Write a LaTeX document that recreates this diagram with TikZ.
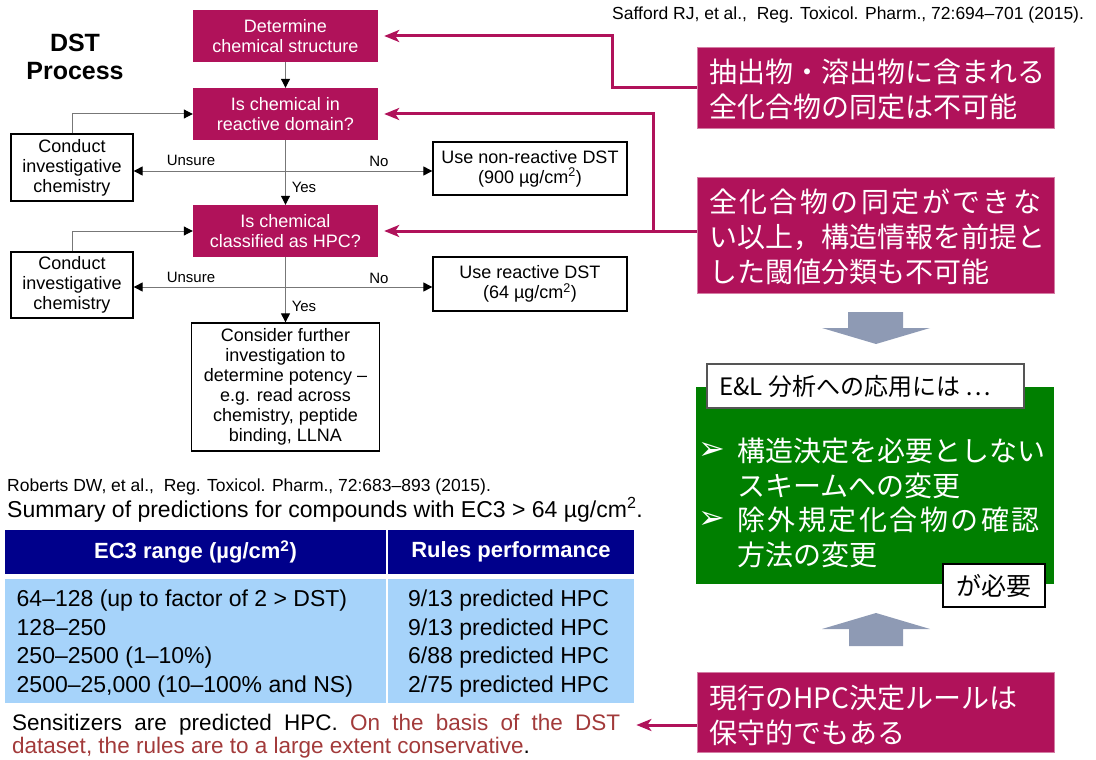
\documentclass[tikz,border=0pt]{standalone}
\usepackage{fontspec}
\setmainfont{Liberation Sans}
\newfontfamily\jpfont{Noto Sans CJK JP}
\newfontfamily\dvfont{DejaVu Sans}
\usetikzlibrary{arrows.meta}
\definecolor{mag}{HTML}{B0125A}
\definecolor{navy}{HTML}{00008B}
\definecolor{lblue}{HTML}{A6D3FA}
\definecolor{grn}{HTML}{007F00}
\definecolor{garr}{HTML}{8E9AB4}
\definecolor{dred}{HTML}{A23A3A}
\definecolor{lgray}{HTML}{777777}
\definecolor{bgray}{HTML}{555555}
\newcommand\fsz[2]{\fontsize{#1}{#2}\selectfont}
\begin{document}
\begin{tikzpicture}[x=1pt,y=-1pt,
  magbox/.style={fill=mag, text=white, inner sep=0pt, align=center, font=\fsz{18}{20}, minimum width=185pt, minimum height=52pt},
  wbox/.style={draw=black, line width=1.3pt, fill=white, inner sep=0pt, align=center, font=\fsz{18}{20}},
  conn/.style={draw=lgray, line width=1pt, -{Triangle[length=9pt,width=9pt,color=black]}},
  conntwo/.style={draw=lgray, line width=1pt, {Triangle[length=9pt,width=9pt,color=black]}-{Triangle[length=9pt,width=9pt,color=black]}},
  lbl/.style={font=\fsz{15}{17}, inner sep=0pt},
  magarrow/.style={draw=mag, line width=3pt, -{Stealth[length=15pt,width=12pt,inset=4pt]}},
  rbox/.style={fill=mag, draw=mag!55!white, line width=0.8pt, inner sep=0pt, minimum width=357pt},
  jptext/.style={anchor=west, align=left, text=white, inner sep=0pt, font=\jpfont\fsz{28}{35}},
  garrow/.style={fill=garr},
  cell/.style={inner sep=0pt}
]
\useasboundingbox (0,0) rectangle (1096,760);

% Title
\node[font=\bfseries\fsz{25}{28}, align=center, inner sep=0pt] (dst) at (75,57) {DST\\Process};

% Flowchart
\node[magbox] (det) at (285.5,36) {Determine\\chemical structure};
\node[magbox] (rea) at (285.5,114) {Is chemical in\\reactive domain?};
\node[magbox] (hpc) at (285.5,231) {Is chemical\\classified as HPC?};
\node[wbox, minimum width=188pt, minimum height=128pt] (con) at (285.5,387) {Consider further\\investigation to\\determine potency –\\e.g. read across\\chemistry, peptide\\binding, LLNA};
\node[wbox, minimum width=122pt, minimum height=67pt] (lc1) at (72,167.5) {Conduct\\investigative\\chemistry};
\node[wbox, minimum width=122pt, minimum height=66pt] (lc2) at (72,285) {Conduct\\investigative\\chemistry};
\node[wbox, minimum width=194pt, minimum height=53pt] (nr) at (530,168.5) {Use non-reactive DST\\(900 µg/cm\textsuperscript{2})};
\node[wbox, minimum width=194pt, minimum height=54pt] (rd) at (530,284) {Use reactive DST\\(64 µg/cm\textsuperscript{2})};

\coordinate (j1) at (285.5,171);
\coordinate (j2) at (285.5,287);
\draw[conn] (det) -- (rea);
\draw[conn] (rea) -- (hpc);
\draw[conn] (hpc) -- (con);
\draw[conntwo] (j1 -| lc1.east) -- (j1 -| nr.west);
\draw[conntwo] (j2 -| lc2.east) -- (j2 -| rd.west);
\draw[conn] (lc1.north) |- (rea.west);
\draw[conn] (lc2.north) |- (hpc.west);

\node[lbl] (u1) at (191,160) {Unsure};
\node[lbl] (n1) at (379,161) {No};
\node[lbl] (y1) at (304,187) {Yes};
\node[lbl] (u2) at (191,277) {Unsure};
\node[lbl] (n2) at (379,278) {No};
\node[lbl] (y2) at (304,306) {Yes};

% Citations
\node[anchor=west, inner sep=0pt, font=\fsz{17.5}{20}] (saf) at (612,15) {Safford RJ, et al.,\ \ Reg. Toxicol. Pharm., 72:694–701 (2015).};
\node[anchor=west, inner sep=0pt, font=\fsz{17.5}{20}] (rob) at (7,487) {Roberts DW, et al.,\ \ Reg. Toxicol. Pharm., 72:683–893 (2015).};
\node[anchor=west, inner sep=0pt, font=\fsz{23}{26}] (sum) at (7,510) {Summary of predictions for compounds with EC3 > 64 µg/cm\textsuperscript{2}.};

% Table
\node[cell, fill=navy, minimum width=381pt, minimum height=44pt, text=white, font=\bfseries\fsz{22}{25}] (h1) at (195.5,552) {EC3 range (µg/cm\textsuperscript{2})};
\node[cell, fill=navy, minimum width=246pt, minimum height=44pt, text=white, font=\bfseries\fsz{22}{25}] (h2) at (511,552) {Rules performance};
\node[cell, fill=lblue, minimum width=381pt, minimum height=124pt] (d1) at (195.5,641) {};
\node[cell, fill=lblue, minimum width=246pt, minimum height=124pt] (d2) at (511,641) {};
\node[anchor=west, align=left, inner sep=0pt, font=\fsz{23}{28.5}] (d1t) at (16.5,643.5) {64–128 (up to factor of 2 > DST)\\128–250\\250–2500 (1–10\%)\\2500–25,000 (10–100\% and NS)};
\node[anchor=west, align=left, inner sep=0pt, font=\fsz{23}{28.5}] (d2t) at (408,643.5) {9/13 predicted HPC\\9/13 predicted HPC\\6/88 predicted HPC\\2/75 predicted HPC};

% Footer
\node[anchor=west, inner sep=0pt, font=\fsz{22.5}{27}] (f1) at (12,725) {\makebox[608pt][s]{Sensitizers are predicted HPC. \textcolor{dred}{On the basis of the DST}}};
\node[anchor=west, inner sep=0pt, font=\fsz{22.5}{27}] (f2) at (12,748) {\textcolor{dred}{dataset, the rules are to a large extent conservative}.};

% Right magenta boxes
\node[rbox, minimum height=81pt] (b1) at (875.5,87.5) {};
\node[jptext] (t1) at (709,89.5) {抽出物・溶出物に含まれる\\全化合物の同定は不可能};
\node[rbox, minimum height=116pt] (b2) at (875.5,235) {};
\node[jptext] (t2) at (709,237) {{\addfontfeature{LetterSpace=8.6}全化合物の同定ができな}\\い以上，構造情報を前提と\\した閾値分類も不可能};
\node[rbox, minimum height=80pt] (b4) at (875.5,712) {};
\node[jptext] (t4) at (709,715) {現行のHPC決定ルールは\\保守的でもある};

% Magenta connectors
\coordinate (k1) at (612,0);
\coordinate (k2) at (653,0);
\draw[magarrow] (b1.west) -- (b1.west -| k1) -- (k1 |- det.east) -- ([xshift=6pt]det.east);
\draw[magarrow] (hpc.east -| b2.west) -- ([xshift=6pt]hpc.east);
\draw[magarrow] ([yshift=-1.5pt]hpc.east -| k2) -- (k2 |- rea.east) -- ([xshift=6pt]rea.east);
\draw[magarrow] (b4.west |- f1.east) -- ([xshift=16pt]f1.east);

% Gray block arrows
\fill[garrow] (848,312) -- (903,312) -- (903,328) -- (930,328) -- (876,344) -- (822,328) -- (848,328) -- cycle;
\fill[garrow] (849,646) -- (903,646) -- (903,629) -- (930,629) -- (876,613) -- (822,629) -- (849,629) -- cycle;

% Green box
\node[cell, fill=grn, minimum width=358pt, minimum height=197pt] (gb) at (875,485.5) {};
\node[cell, fill=white, draw=bgray, line width=1.5pt, minimum width=317pt, minimum height=44pt] (lab) at (865.5,386) {};
\node[anchor=west, inner sep=0pt, font=\jpfont\fsz{24}{28}] (labt) at (719,386) {E\&L 分析への応用には …};
\node[inner sep=0pt, text=white, font=\dvfont\fsz{32}{34}] (bl1) at (712,451) {➢};
\node[inner sep=0pt, text=white, font=\dvfont\fsz{32}{34}] (bl2) at (712,520) {➢};
\node[anchor=west, align=left, inner sep=0pt, text=white, font=\jpfont\fsz{28}{34.7}] (gt) at (737,503) {構造決定を必要としない\\スキームへの変更\\{\addfontfeature{LetterSpace=9}除外規定化合物の確認}\\方法の変更};
\node[cell, fill=white, draw=black, line width=1.5pt, minimum width=102pt, minimum height=43pt, font=\jpfont\fsz{25}{28}] (need) at (994,585.5) {が必要};
\end{tikzpicture}
\end{document}
